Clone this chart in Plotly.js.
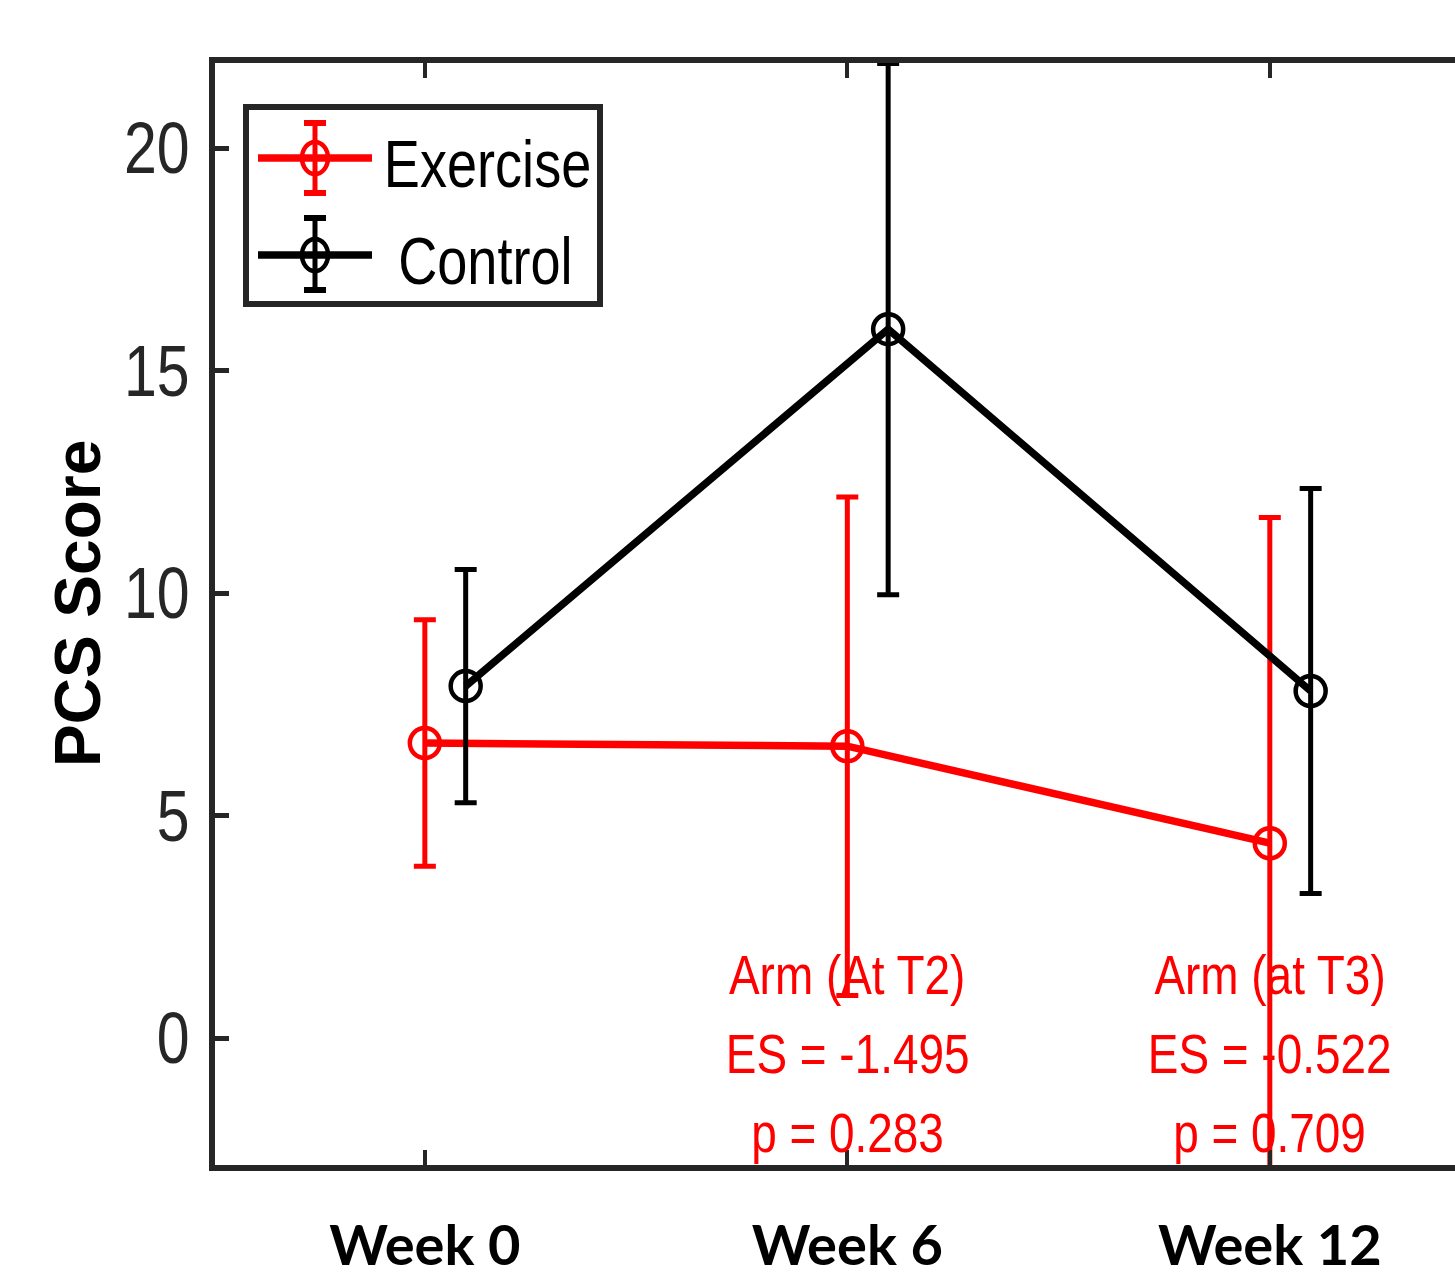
<!DOCTYPE html>
<html>
<head>
<meta charset="utf-8">
<script src="https://cdn.plot.ly/plotly-3.0.1.min.js"></script>
<style>
html,body{margin:0;padding:0;background:#fff;}
#chart{width:1455px;height:1280px;}
/* emulate the narrow (Helvetica Narrow-like) face of the original */
#chart .annotation-text{transform-box:fill-box;transform-origin:center;transform:scaleX(0.82);}
#chart g.annotation[data-index="0"] .annotation-text{transform:none;}
#chart g.ytick{transform-box:fill-box;transform-origin:right center;transform:scaleX(0.82);}
</style>
</head>
<body>
<div id="chart"></div>
<script>
// ---- data ----
const weeks = [0, 6, 12];
const weekLabels = ["Week 0", "Week 6", "Week 12"];
const exerciseMean = [6.63, 6.56, 4.38];
const exerciseSD = [2.77, 5.6, 7.32];
const controlMean = [7.91, 15.93, 7.80];
const controlSD = [2.62, 5.97, 4.55];
const seriesNames = ["Exercise", "Control"];
const yTicks = [0, 5, 10, 15, 20];
const yTitle = "PCS Score";
const annotWeeks = [6, 12];
const annotText = [
  ["Arm (At T2)", "ES = -1.495", "p = 0.283"],
  ["Arm (at T3)", "ES = -0.522", "p = 0.709"]
];

// ---- layout constants ----
const W = 1455, H = 1280;
const M = {l: 215, r: 0, t: 63, b: 115};
const plotW = W - M.l - M.r, plotH = H - M.t - M.b;
const dodge = 0.58;
const sans = '"Liberation Sans", Arial, Helvetica, sans-serif';
const axisCol = '#262626';
const RED = '#ff0000';

const px = x => (x - M.l) / plotW;
const py = y => (H - M.b - y) / plotH;

const traces = [
  {
    x: weeks, y: exerciseMean, name: seriesNames[0], type: 'scatter', mode: 'lines+markers',
    line: {color: RED, width: 7.5},
    marker: {symbol: 'circle-open', size: 30, color: RED, line: {width: 4.5, color: RED}},
    error_y: {type: 'data', array: exerciseSD, visible: true, color: RED, thickness: 5, width: 11},
    cliponaxis: false
  },
  {
    x: weeks.map(w => w + dodge), y: controlMean, name: seriesNames[1], type: 'scatter', mode: 'lines+markers',
    line: {color: '#000', width: 7.5},
    marker: {symbol: 'circle-open', size: 30, color: '#000', line: {width: 4.5, color: '#000'}},
    error_y: {type: 'data', array: controlSD, visible: true, color: '#000', thickness: 5, width: 11},
    cliponaxis: false
  }
];

const annotations = [];
// y-axis title (index 0, not condensed)
annotations.push({xref: 'paper', yref: 'paper', x: px(78), y: py(604), xanchor: 'center', yanchor: 'middle',
  text: yTitle, textangle: -90, showarrow: false,
  font: {family: sans, size: 64, color: '#000', weight: 'bold'}});

// statistical annotations
const lineY = [1.42, -0.34, -2.13];
annotText.forEach((lines, i) => {
  lines.forEach((t, j) => {
    annotations.push({
      x: annotWeeks[i], y: lineY[j], xref: 'x', yref: 'y', text: t, showarrow: false,
      xanchor: 'center', yanchor: 'middle',
      font: {family: sans, size: 56, color: RED}
    });
  });
});

// custom legend (line + open circle + error bar glyph)
const shapes = [];
shapes.push({type: 'rect', xref: 'paper', yref: 'paper', x0: px(246), x1: px(600), y0: py(107), y1: py(304),
  line: {color: axisCol, width: 6}, fillcolor: 'rgba(0,0,0,0)'});
const legItems = [
  {name: seriesNames[0], color: RED, y: 158, eTop: 123, eBot: 193, tx: 487},
  {name: seriesNames[1], color: '#000', y: 255, eTop: 218, eBot: 290, tx: 485}
];
legItems.forEach(it => {
  shapes.push({type: 'line', xref: 'paper', yref: 'paper', x0: px(258), x1: px(372), y0: py(it.y), y1: py(it.y),
    line: {color: it.color, width: 7.5}});
  shapes.push({type: 'line', xref: 'paper', yref: 'paper', x0: px(315), x1: px(315), y0: py(it.eTop), y1: py(it.eBot),
    line: {color: it.color, width: 5}});
  [it.eTop, it.eBot].forEach(yy => shapes.push({type: 'line', xref: 'paper', yref: 'paper',
    x0: px(304), x1: px(326), y0: py(yy), y1: py(yy), line: {color: it.color, width: 6}}));
  shapes.push({type: 'circle', xref: 'paper', yref: 'paper', x0: px(302), x1: px(328), y0: py(it.y - 16), y1: py(it.y + 16),
    line: {color: it.color, width: 4.5}, fillcolor: 'rgba(0,0,0,0)'});
  annotations.push({xref: 'paper', yref: 'paper', x: px(it.tx), y: py(it.y + 6), xanchor: 'center', yanchor: 'middle',
    text: it.name, showarrow: false, font: {family: sans, size: 66, color: '#000'}});
});

const layout = {
  width: W, height: H,
  margin: M,
  paper_bgcolor: '#fff', plot_bgcolor: '#fff',
  showlegend: false,
  xaxis: {
    range: [-2.98, 14.63], tickvals: weeks, ticktext: weekLabels,
    showgrid: false, zeroline: false,
    showline: true, linecolor: axisCol, linewidth: 6, mirror: 'ticks',
    ticks: 'inside', ticklen: 15, tickwidth: 4, tickcolor: axisCol,
    tickfont: {family: 'Lato, "Open Sans", sans-serif', size: 56, color: '#000', weight: 'bold'},
    ticklabelstandoff: 27
  },
  yaxis: {
    range: [-2.85, 21.91], tickvals: yTicks, ticktext: yTicks.map(String),
    showgrid: false, zeroline: false,
    showline: true, linecolor: axisCol, linewidth: 6, mirror: false,
    ticks: 'inside', ticklen: 14, tickwidth: 5, tickcolor: axisCol,
    tickfont: {family: sans, size: 72, color: axisCol},
    ticklabelstandoff: 5
  },
  shapes: shapes,
  annotations: annotations
};

Plotly.newPlot('chart', traces, layout, {displayModeBar: false, staticPlot: true});
</script>
</body>
</html>
